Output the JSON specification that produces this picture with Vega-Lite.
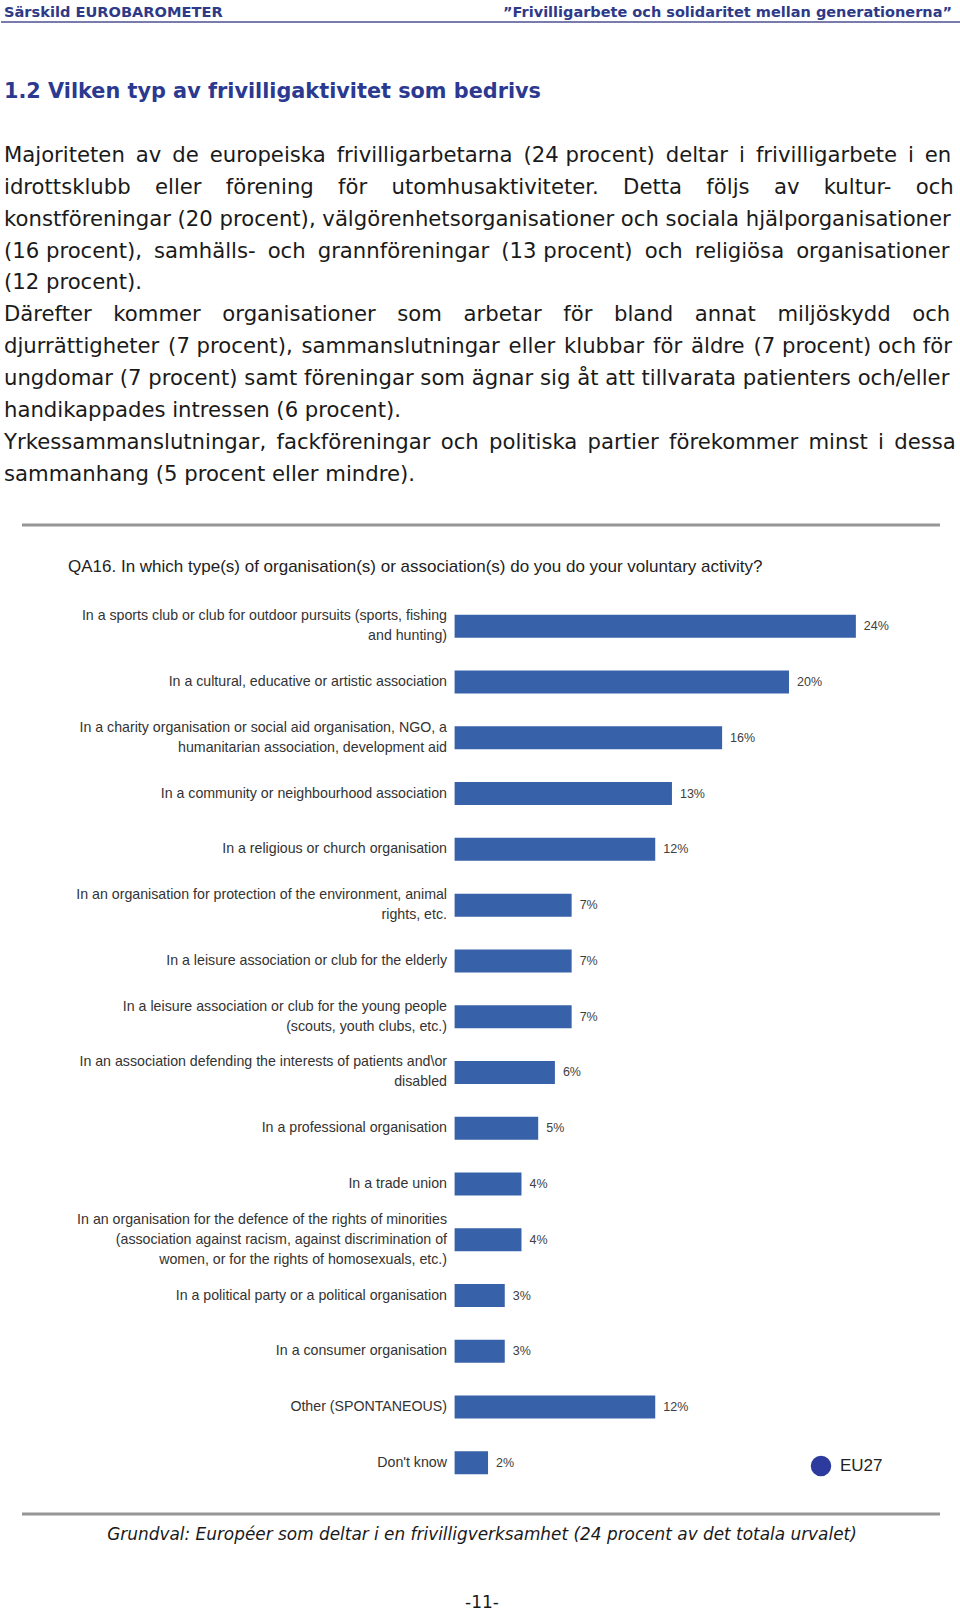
{
"$schema":"https://vega.github.io/schema/vega-lite/v6.json",
"width":960,"height":1612,"padding":0,
"autosize":{"type":"fit","contains":"padding"},
"background":"white",
"config":{"view":{"stroke":null}},
"resolve":{"scale":{"x":"independent","y":"independent"},"axis":{"x":"independent","y":"independent"}},
"layer":[
{
"encoding":{
 "x":{"field":"col","type":"quantitative","axis":null,"scale":{"domain":[-1,0,1,2,3,4,5,6],"range":[0,3,21,67,481,939,951,960],"nice":false,"zero":false}},
 "y":{"field":"row","type":"quantitative","axis":null,"scale":{"domain":[0,1,2,3,13,14,15,16,17,18],"range":[13,22,92,156,474.5,525,567,1514,1535,1603],"nice":false,"zero":false}}
},
"layer":[
 {"data":{"values":[{"row":1,"col":-1,"end":6}]},"mark":{"type":"rule","color":"#4B4F8F","strokeWidth":1.5},"encoding":{"x2":{"field":"end"}}},
 {"data":{"values":[{"row":14,"col":1,"end":4},{"row":16,"col":1,"end":4}]},"mark":{"type":"rule","color":"#969696","strokeWidth":3},"encoding":{"x2":{"field":"end"}}},
 {"data":{"values":[{"row":0,"col":0,"text":"Särskild EUROBAROMETER"}]},"mark":{"type":"text","font":"DejaVu Sans","fontWeight":"bold","fontSize":14.6,"color":"#2E3A87","align":"left","baseline":"middle"},"encoding":{"text":{"field":"text"}}},
 {"data":{"values":[{"row":0,"col":5,"text":"”Frivilligarbete och solidaritet mellan generationerna”"}]},"mark":{"type":"text","font":"DejaVu Sans","fontWeight":"bold","fontSize":14.5,"color":"#2E3A87","align":"right","baseline":"middle"},"encoding":{"text":{"field":"text"}}},
 {"data":{"values":[{"row":2,"col":0,"text":"1.2 Vilken typ av frivilligaktivitet som bedrivs"}]},"mark":{"type":"text","font":"DejaVu Sans","fontWeight":"bold","fontSize":20.8,"color":"#2B3990","align":"left","baseline":"middle"},"encoding":{"text":{"field":"text"}}},
 {"data":{"values":[
  {"row":3,"col":0,"text":"Majoriteten \u2009av \u2009de \u2009europeiska \u2009frivilligarbetarna \u2009(24 procent) \u2009deltar \u2009i \u2009frivilligarbete \u2009i \u2009en"},
  {"row":4,"col":0,"text":"idrottsklubb \u2002\u2004eller \u2002\u2004förening \u2002\u2004för \u2002\u2004utomhusaktiviteter. \u2002\u2004Detta \u2002\u2004följs \u2002\u2004av \u2002\u2004kultur- \u2002\u2004och"},
  {"row":5,"col":0,"text":"konstföreningar (20 procent), välgörenhetsorganisationer och sociala hjälporganisationer"},
  {"row":6,"col":0,"text":"(16 procent), \u2005samhälls- \u2005och \u2005grannföreningar \u2005(13 procent) \u2005och \u2005religiösa \u2005organisationer"},
  {"row":7,"col":0,"text":"(12 procent)."},
  {"row":8,"col":0,"text":"Därefter \u2002\u2009kommer \u2002\u2009organisationer \u2002\u2009som \u2002\u2009arbetar \u2002\u2009för \u2002\u2009bland \u2002\u2009annat \u2002\u2009miljöskydd \u2002\u2009och"},
  {"row":9,"col":0,"text":"djurrättigheter \u200a(7 procent), \u200asammanslutningar \u200aeller \u200aklubbar \u200aför \u200aäldre \u200a(7 procent) och för"},
  {"row":10,"col":0,"text":"ungdomar (7 procent) samt föreningar som ägnar sig åt att tillvarata patienters och/eller"},
  {"row":11,"col":0,"text":"handikappades intressen (6 procent)."},
  {"row":12,"col":0,"text":"Yrkessammanslutningar, \u2006fackföreningar \u2006och \u2006politiska \u2006partier \u2006förekommer \u2006minst \u2006i \u2006dessa"},
  {"row":13,"col":0,"text":"sammanhang (5 procent eller mindre)."}
 ]},"mark":{"type":"text","font":"DejaVu Sans","fontSize":21.2,"color":"#1A1A1A","align":"left","baseline":"middle"},"encoding":{"text":{"field":"text"}}},
 {"data":{"values":[{"row":15,"col":2,"text":"QA16. In which type(s) of organisation(s) or association(s) do you do your voluntary activity?"}]},"mark":{"type":"text","font":"Liberation Sans","fontSize":17,"color":"#222222","align":"left","baseline":"middle"},"encoding":{"text":{"field":"text"}}},
 {"data":{"values":[{"row":17,"col":3,"text":"Grundval: Européer som deltar i en frivilligverksamhet (24 procent av det totala urvalet)"}]},"mark":{"type":"text","font":"DejaVu Sans","fontStyle":"italic","fontSize":16.9,"color":"#1A1A1A","align":"center","baseline":"middle"},"encoding":{"text":{"field":"text"}}},
 {"data":{"values":[{"row":18,"col":3,"text":"-11-"}]},"mark":{"type":"text","font":"DejaVu Sans","fontSize":17,"color":"#1A1A1A","align":"center","baseline":"middle"},"encoding":{"text":{"field":"text"}}}
]},
{
"data":{"values":[
 {"label":"In a sports club or club for outdoor pursuits (sports, fishing|and hunting)","value":24,"pct":"24%"},
 {"label":"In a cultural, educative or artistic association","value":20,"pct":"20%"},
 {"label":"In a charity organisation or social aid organisation, NGO, a|humanitarian association, development aid","value":16,"pct":"16%"},
 {"label":"In a community or neighbourhood association","value":13,"pct":"13%"},
 {"label":"In a religious or church organisation","value":12,"pct":"12%"},
 {"label":"In an organisation for protection of the environment, animal|rights, etc.","value":7,"pct":"7%"},
 {"label":"In a leisure association or club for the elderly","value":7,"pct":"7%"},
 {"label":"In a leisure association or club for the young people|(scouts, youth clubs, etc.)","value":7,"pct":"7%"},
 {"label":"In an association defending the interests of patients and\\or|disabled","value":6,"pct":"6%"},
 {"label":"In a professional organisation","value":5,"pct":"5%"},
 {"label":"In a trade union","value":4,"pct":"4%"},
 {"label":"In an organisation for the defence of the rights of minorities|(association against racism, against discrimination of|women, or for the rights of homosexuals, etc.)","value":4,"pct":"4%"},
 {"label":"In a political party or a political organisation","value":3,"pct":"3%"},
 {"label":"In a consumer organisation","value":3,"pct":"3%"},
 {"label":"Other (SPONTANEOUS)","value":12,"pct":"12%"},
 {"label":"Don't know","value":2,"pct":"2%"}
]},
"encoding":{
 "y":{"field":"label","type":"nominal","sort":null,"title":null,
  "scale":{"range":[598.4,1490.7],"paddingInner":0,"paddingOuter":0},
  "axis":{"orient":"left","offset":-445.5,"domain":false,"ticks":false,"grid":false,"labelPadding":0,"labelLimit":500,"labelFont":"Liberation Sans","labelFontSize":14.2,"labelColor":"#333333","labelLineHeight":20,"labelOverlap":false,
   "labelOffset":{"condition":[{"test":"length(split(datum.value,'|'))==3","value":-20},{"test":"length(split(datum.value,'|'))==2","value":-10}],"value":0},
   "labelExpr":"split(datum.label,'|')"}},
 "x":{"field":"value","type":"quantitative","axis":null,"scale":{"domain":[0,30.24],"range":[453.6,959.2],"nice":false,"zero":true}}
},
"layer":[
 {"mark":{"type":"bar","color":"#3762A9","size":23}},
 {"mark":{"type":"text","font":"Liberation Sans","fontSize":12.5,"color":"#404040","align":"left","baseline":"middle","dx":8},"encoding":{"text":{"field":"pct"}}},
 {"data":{"values":[{"area":"EU27"}]},"mark":{"type":"point","filled":true,"opacity":0},
  "encoding":{"x":{"value":400},"y":{"value":400},"color":{"field":"area","type":"nominal","scale":{"range":["#2E3B9E"]},"title":null,
   "legend":{"orient":"none","legendX":809,"legendY":1455,"symbolType":"circle","symbolSize":420,"symbolOpacity":1,"labelFont":"Liberation Sans","labelFontSize":17,"labelColor":"#222222","labelOffset":8}}}}
]}
]
}
